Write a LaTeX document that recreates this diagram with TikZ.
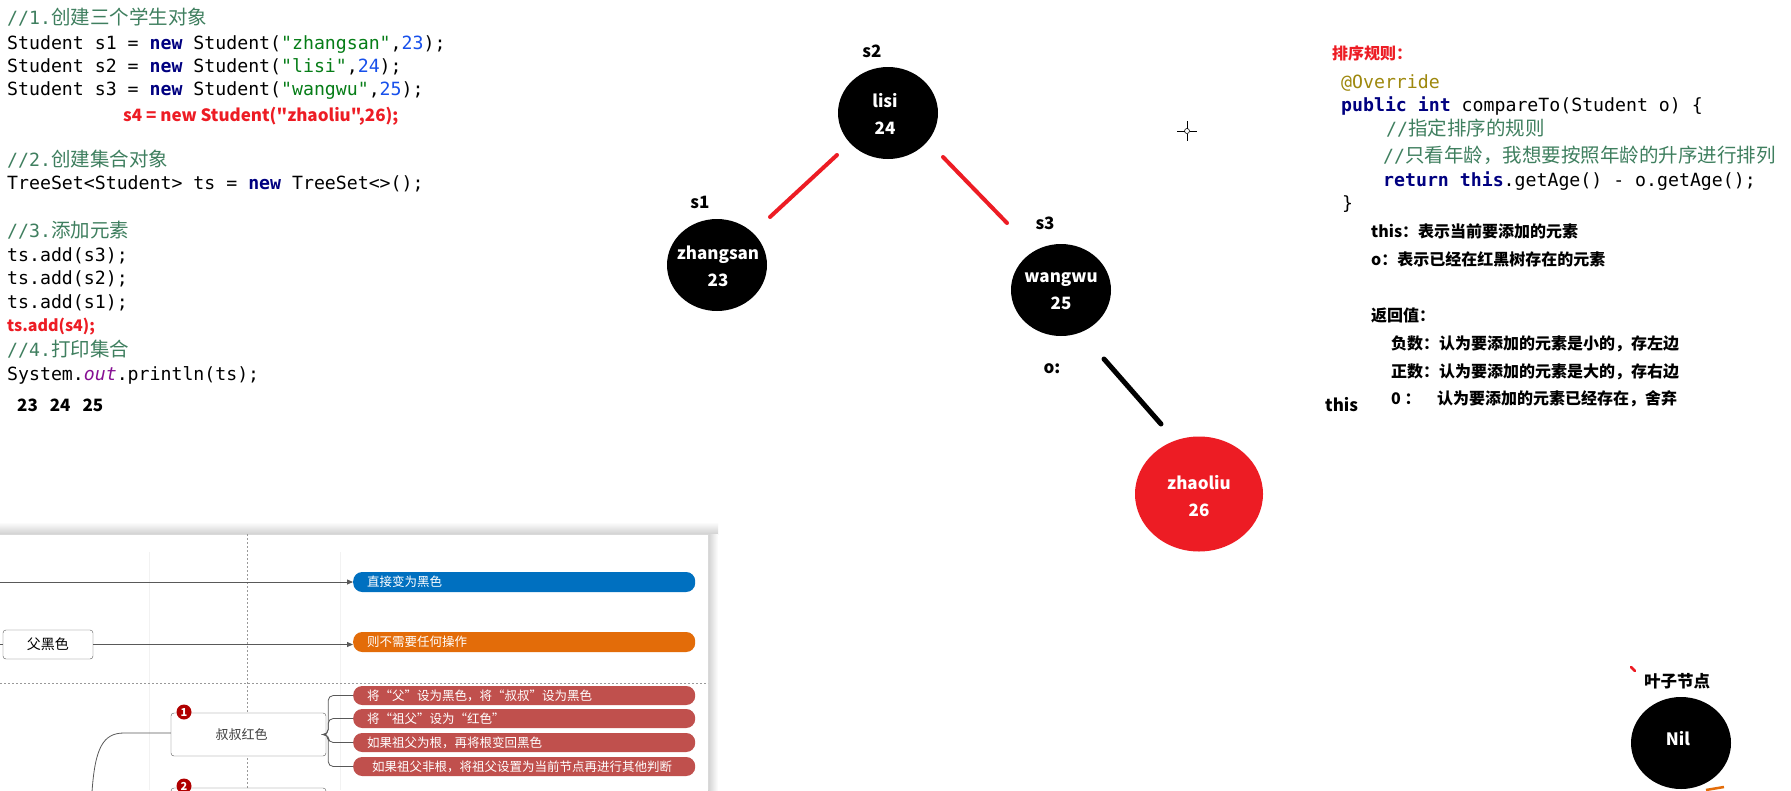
\documentclass[tikz,border=0pt]{standalone}
\usepackage{fontspec}
\setmainfont{Noto Sans CJK SC}
\newfontfamily\mono{DejaVu Sans Mono}
\newfontfamily\cjk{Noto Sans CJK SC}
\usetikzlibrary{calc,shapes.geometric,arrows.meta}
\definecolor{cmt}{RGB}{63,127,95}
\definecolor{kwc}{RGB}{0,0,128}
\definecolor{strc}{RGB}{6,125,23}
\definecolor{numc}{RGB}{23,80,235}
\definecolor{annc}{RGB}{158,136,13}
\definecolor{outc}{RGB}{135,16,148}
\definecolor{pred}{RGB}{237,28,36}
\definecolor{pblue}{RGB}{0,112,192}
\definecolor{porange}{RGB}{227,108,9}
\definecolor{pbrick}{RGB}{192,80,77}
\definecolor{mk}{RGB}{176,0,0}
\definecolor{lgray}{RGB}{89,89,89}
\newcommand\kwd[1]{{\bfseries\color{kwc}#1}}
\newcommand\strg[1]{{\color{strc}#1}}
\newcommand\numb[1]{{\color{numc}#1}}
\newcommand\cmnt[2]{{\color{cmt}#1{\cjk\fontsize{19.5}{22}\selectfont#2}}}
\begin{document}
\begin{tikzpicture}[x=1pt,y=-1pt,
  code/.style={anchor=base west,inner sep=0pt,font=\mono\fontsize{18.2}{22}\selectfont},
  redcode/.style={anchor=base west,inner sep=0pt,text=pred,font=\cjk\bfseries\fontsize{16}{18}\selectfont},
  note/.style={anchor=base west,inner sep=0pt,font=\cjk\bfseries\fontsize{16}{18}\selectfont},
  lbl/.style={inner sep=0pt,font=\cjk\bfseries\fontsize{17}{18}\selectfont},
  blk/.style={ellipse,fill=black,minimum width=100pt,minimum height=92pt,inner sep=0pt},
  ntxt/.style={align=center,text=white,inner sep=0pt,font=\cjk\bfseries\fontsize{17}{27}\selectfont},
  redl/.style={draw=pred,line width=4pt,line cap=round},
  blkl/.style={draw=black,line width=5pt,line cap=round},
  conn/.style={draw=lgray,line width=0.8pt},
  arr/.style={conn,-{Triangle[length=6pt,width=5pt]}},
  pill/.style={rounded corners=9pt,minimum height=19pt,text width=314pt,inner xsep=14pt,inner ysep=0pt,align=left,text=white,anchor=west,font=\cjk\fontsize{12.5}{14}\selectfont},
  mbox/.style={draw=lgray,rounded corners=3pt,fill=white,inner sep=0pt},
  marker/.style={circle,fill=mk,text=white,inner sep=0pt,minimum size=15pt,font=\cjk\bfseries\fontsize{11}{11}\selectfont}
]
\useasboundingbox (0,0) rectangle (1791,790);
\clip (0,0) rectangle (1791,790);
\fill[white] (0,0) rectangle (1791,790);

% ---------- left code ----------
\node[code] (c1) at (7,24) {\cmnt{//1.}{创建三个学生对象}};
\node[code] (c2) at (7,49) {Student s1 = \kwd{new} Student(\strg{"zhangsan"},\numb{23});};
\node[code] (c3) at (7,72) {Student s2 = \kwd{new} Student(\strg{"lisi"},\numb{24});};
\node[code] (c4) at (7,95) {Student s3 = \kwd{new} Student(\strg{"wangwu"},\numb{25});};
\node[redcode,font=\cjk\bfseries\fontsize{17}{18}\selectfont] (c5) at (123,121) {s4 = new Student("zhaoliu",26);};
\node[code] (c6) at (7,166) {\cmnt{//2.}{创建集合对象}};
\node[code] (c7) at (7,189) {TreeSet<Student> ts = \kwd{new} TreeSet<>();};
\node[code] (c8) at (7,237) {\cmnt{//3.}{添加元素}};
\node[code] (c9) at (7,261) {ts.add(s3);};
\node[code] (c10) at (7,284) {ts.add(s2);};
\node[code] (c11) at (7,308) {ts.add(s1);};
\node[redcode] (c12) at (7,331) {ts.add(s4);};
\node[code] (c13) at (7,356) {\cmnt{//4.}{打印集合}};
\node[code] (c14) at (7,380) {System.{\itshape\color{outc}out}.println(ts);};
\node[note,font=\cjk\bfseries\fontsize{17}{18}\selectfont] (c15) at (17,411) {23\hspace{12pt}24\hspace{12pt}25};

% ---------- tree ----------
\node[lbl] (ls2) at (872,51) {s2};
\node[lbl] (ls1) at (700,202) {s1};
\node[lbl] (ls3) at (1045,223) {s3};
\node[lbl] (lo) at (1052,369) {o:};
\node[blk] (s2) at (888,113) {};
\node[blk] (s1) at (717,265) {};
\node[blk] (s3) at (1061,290) {};
\node[ellipse,fill=pred,minimum width=128pt,minimum height=115pt,inner sep=0pt] (zl) at (1199,494) {};
\node[ntxt] (s2t) at (885,114) {lisi\\24};
\node[ntxt] (s1t) at (718,266) {zhangsan\\23};
\node[ntxt] (s3t) at (1061,291) {wangwu\\25};
\node[ntxt] (zlt) at (1199,496) {zhaoliu\\26};
\draw[redl] ($(s2)+(-51,42)$) -- ($(s1)+(53,-48)$);
\draw[redl] ($(s2)+(55,44)$) -- ($(s3)+(-54,-67)$);
\draw[blkl] ($(s3)+(43,69)$) -- ($(zl)+(-38,-70)$);

% cursor crosshair
\draw[black,line width=0.8pt] (1177,131) -- (1184.5,131) (1189.5,131) -- (1197,131)
  (1187,121) -- (1187,128.5) (1187,133.5) -- (1187,141);
\draw[black,line width=0.6pt] (1187,131) circle (2.5pt);

% ---------- right code ----------
\node[note,text=pred] (r0) at (1332,59) {排序规则：};
\node[code] (r1) at (1341,88) {{\color{annc}@Override}};
\node[code] (r2) at (1341,111) {\kwd{public} \kwd{int} compareTo(Student o) \{};
\node[code] (r3) at (1386,135) {\cmnt{//}{指定排序的规则}};
\node[code] (r4) at (1383,162) {\cmnt{//}{只看年龄，我想要按照年龄的升序进行排列}};
\node[code] (r5) at (1383,186) {\kwd{return} \kwd{this}.getAge() - o.getAge();};
\node[code] (r6) at (1342,209) {\}};

\node[note] (n1) at (1371,237) {this：表示当前要添加的元素};
\node[note] (n2) at (1371,265) {o：表示已经在红黑树存在的元素};
\node[note] (n3) at (1371,321) {返回值：};
\node[note] (n4) at (1391,349) {负数：认为要添加的元素是小的，存左边};
\node[note] (n5) at (1391,377) {正数：认为要添加的元素是大的，存右边};
\node[note] (n6) at (1391,404) {0 ：};
\node[note] (n7) at (1437,404) {认为要添加的元素已经存在，舍弃};
\node[note,font=\cjk\bfseries\fontsize{17}{18}\selectfont] (lthis) at (1325,411) {this};

% ---------- Nil ----------
\node[lbl,font=\cjk\bfseries\fontsize{16.5}{18}\selectfont] (leaf) at (1677,681) {叶子节点};
\node[blk] (nil) at (1681,743) {};
\node[ntxt] (nilt) at (1678,739) {Nil};
\draw[pred,line width=2.5pt,line cap=round] (1631,667) -- (1635,671);
\draw[porange,line width=2.5pt] (1706,790) -- (1724,787);

% ---------- bottom-left mind map panel ----------
\shade[top color=white,bottom color=black!18] (0,522) rectangle (718,534);
\shade[left color=black!18,right color=white] (708,534) rectangle (718,790);
\fill[white] (0,534) rectangle (708,790);
\draw[black!15] (0,534) -- (708,534) -- (708,790);
\draw[black!5] (149,552) -- (149,790) (340,552) -- (340,790);
\draw[black!40,dash pattern=on 2pt off 2pt] (247,534) -- (247,790);
\draw[black!40,dash pattern=on 2pt off 2pt] (0,683) -- (708,683);

\node[pill,fill=pblue,minimum height=20pt] (pb) at (353,582) {直接变为黑色};
\node[pill,fill=porange,minimum height=20pt] (po) at (353,642) {则不需要任何操作};
\node[pill,fill=pbrick] (p1) at (353,695.5) {将“父”设为黑色，将“叔叔”设为黑色};
\node[pill,fill=pbrick] (p2) at (353,718.5) {将“祖父”设为“红色”};
\node[pill,fill=pbrick] (p3) at (353,742.5) {如果祖父为根，再将根变回黑色};
\node[pill,fill=pbrick] (p4) at (353,766.5) {\hspace{5pt}如果祖父非根，将祖父设置为当前节点再进行其他判断};

\coordinate (bstart) at (0,582);
\draw[arr] (bstart) -- (pb.west);
\node[mbox,minimum width=90pt,minimum height=29pt,font=\cjk\fontsize{14}{16}\selectfont] (fb) at (48,644.5) {父黑色};
\coordinate (fstart) at (0,644.5);
\draw[conn] (fstart) -- (fb.west);
\draw[arr] (fb.east) -- (fb.east -| po.west);

\node[mbox,minimum width=155pt,minimum height=43pt,text=black!75,font=\cjk\fontsize{13}{15}\selectfont] (b1) at (248.5,734.5) {\hspace*{-14pt}叔叔红色};
\node[mbox,minimum width=155pt,minimum height=44pt] (b2) at (248.5,810) {};
\node[marker] (m1) at (184,712) {1};
\node[marker] (m2) at (184,786) {2};
\coordinate (cv) at (92,792);
\draw[conn] (cv) .. controls (95,748) and (103,733) .. (124,733) -- (b1.west |- 0,733);
\foreach \p in {p1,p2,p3,p4}
  \draw[conn,rounded corners=5pt] (b1.east) -- ++(2,0) |- (\p.west);
\end{tikzpicture}
\end{document}
